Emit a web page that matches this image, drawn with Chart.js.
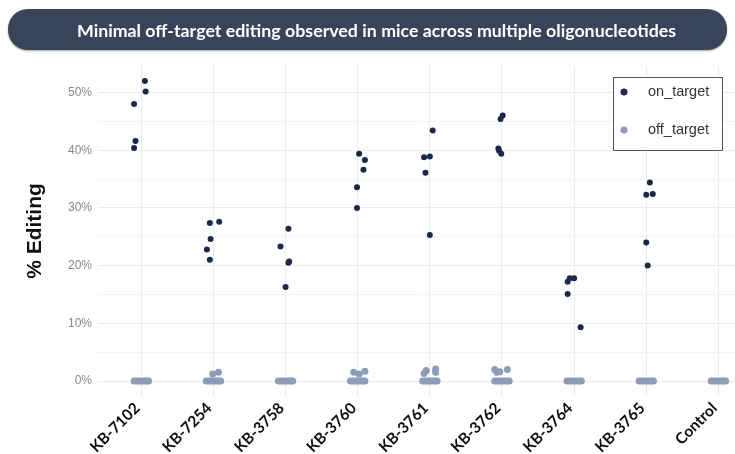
<!DOCTYPE html>
<html>
<head>
<meta charset="utf-8">
<script src="https://cdn.jsdelivr.net/npm/chart.js@4.4.1/dist/chart.umd.min.js"></script>
<style>
html,body{margin:0;padding:0;background:#fff;}
#wrap{position:relative;width:735px;height:454px;overflow:hidden;}
#c{position:absolute;left:0;top:0;}
#title{position:absolute;left:8px;top:9px;width:701px;padding-left:18px;height:41px;border-radius:20px;background:#3a4459;
  box-shadow:0 1px 2px rgba(0,0,0,.35);color:#fff;font:700 17.8px Lato,sans-serif;
  display:flex;align-items:center;justify-content:center;}
</style>
</head>
<body>
<div id="wrap">
  <!-- canvas a touch wider than the page: the plot panel runs off the right edge like the source image -->
  <canvas id="c" width="739" height="454"></canvas>
  <div id="title">Minimal off-target editing observed in mice across multiple oligonucleotides</div>
</div>
<script>
/* ---- data ---- */
const categories = ['KB-7102','KB-7254','KB-3758','KB-3760','KB-3761','KB-3762','KB-3764','KB-3765','Control'];
const yTicks = [0,5,10,15,20,25,30,35,40,45,50];

// on-target % editing, one value per mouse
const onTargetPct = [
  [52.0, 50.2, 48.0, 41.6, 40.4],
  [27.6, 27.4, 24.6, 22.8, 21.0],
  [26.4, 23.3, 20.7, 20.5, 16.3],
  [39.4, 38.3, 36.6, 33.6, 30.0],
  [43.4, 38.9, 38.8, 36.1, 25.3],
  [46.0, 45.4, 40.3, 39.9, 39.4],
  [17.8, 17.8, 17.2, 15.1, 9.3],
  [34.4, 32.4, 32.3, 24.0, 20.0],
  []
];
// horizontal jitter of those points (category units)
const onTargetJitter = [
  [0.05, 0.06, -0.10, -0.08, -0.10],
  [0.08, -0.05, -0.04, -0.09, -0.05],
  [0.04, -0.07, 0.05, 0.04, 0.00],
  [0.02, 0.10, 0.08, -0.01, -0.01],
  [0.04, 0.00, -0.08, -0.06, 0.00],
  [0.01, -0.02, -0.05, -0.04, -0.01],
  [0.00, -0.06, -0.09, -0.09, 0.09],
  [0.05, 0.09, 0.00, 0.00, 0.02],
  []
];

// off-target: every group has a row of mice at 0%, a few sit slightly above
const offZeroJitter = [-0.10, -0.07, -0.04, -0.01, 0.02, 0.05, 0.08, 0.10];
const offTargetPct = [[], [1.2, 1.5], [], [1.5, 1.2, 1.7], [1.3, 1.8, 2.1, 1.5], [2.0, 1.5, 1.6, 2.0], [], [], []];
const offTargetJitter = [[], [-0.01, 0.07], [], [-0.055, 0.02, 0.10], [-0.08, -0.05, 0.08, 0.08], [-0.10, -0.07, -0.03, 0.075], [], [], []];

/* ---- build point lists ---- */
const onPts = [], offPts = [];
categories.forEach((c, i) => {
  onTargetPct[i].forEach((v, k) => onPts.push({x: i + onTargetJitter[i][k], y: v}));
  offZeroJitter.forEach(j => offPts.push({x: i + j, y: 0}));
  offTargetPct[i].forEach((v, k) => offPts.push({x: i + offTargetJitter[i][k], y: v}));
});

/* legend box drawn inside the plot, top-right */
const insideLegend = {
  id: 'insideLegend',
  afterDraw(chart){
    const {ctx, chartArea: a} = chart;
    const w = 109, h = 73, x = a.right - 13 - w, y = a.top + 11;
    ctx.save();
    ctx.fillStyle = '#fff'; ctx.fillRect(x, y, w, h);
    ctx.strokeStyle = '#555'; ctx.lineWidth = 1; ctx.strokeRect(x + .5, y + .5, w, h);
    chart.data.datasets.forEach((ds, i) => {
      const cy = y + 15 + i * 38;
      ctx.fillStyle = ds.backgroundColor;
      ctx.beginPath(); ctx.arc(x + 11, cy, 3.5, 0, Math.PI * 2); ctx.fill();
      ctx.fillStyle = '#333'; ctx.font = '14.5px "Liberation Sans", Arial, sans-serif';
      ctx.textBaseline = 'middle'; ctx.fillText(ds.label, x + 35, cy);
    });
    ctx.restore();
  }
};

new Chart(document.getElementById('c'), {
  type: 'scatter',
  data: {datasets: [
    {label: 'on_target', data: onPts, backgroundColor: '#18294a', borderWidth: 0, pointRadius: 3},
    {label: 'off_target', data: offPts, backgroundColor: '#8f9cb9', borderWidth: 0, pointRadius: 3.5}
  ]},
  options: {
    responsive: false, animation: false,
    layout: {padding: {top: 66, right: 0, bottom: 0, left: 0}},
    plugins: {legend: {display: false}, tooltip: {enabled: false}},
    scales: {
      x: {type: 'linear', min: -0.6, max: 8.23,
        afterBuildTicks: s => { s.ticks = categories.map((c, i) => ({value: i})); },
        afterFit: s => { s.height = 58; },
        grid: {color: '#ebebeb', drawTicks: false}, border: {display: false},
        ticks: {autoSkip: false, minRotation: 45, maxRotation: 45, padding: 3, labelOffset: -4, color: '#0d0d0d',
          font: {family: 'Lato', size: 15.5, weight: 'bold'}, callback: v => categories[v]}},
      y: {min: -2.6, max: 54.6,
        afterBuildTicks: s => { s.ticks = yTicks.map(v => ({value: v})); },
        afterFit: s => { s.width = 98; },
        grid: {color: c => c.tick && c.tick.value % 10 === 0 ? '#ebebeb' : '#f4f4f4', drawTicks: false},
        border: {display: false},
        ticks: {padding: 6, color: '#888', font: {family: 'Liberation Sans', size: 12},
          callback: v => v % 10 === 0 ? v + '%' : ''},
        title: {display: true, text: '% Editing', color: '#111',
          font: {family: 'Liberation Sans', size: 21, weight: 'bold'}, padding: {top: 23, bottom: 0}}}
    }
  },
  plugins: [insideLegend]
});
</script>
</body>
</html>
